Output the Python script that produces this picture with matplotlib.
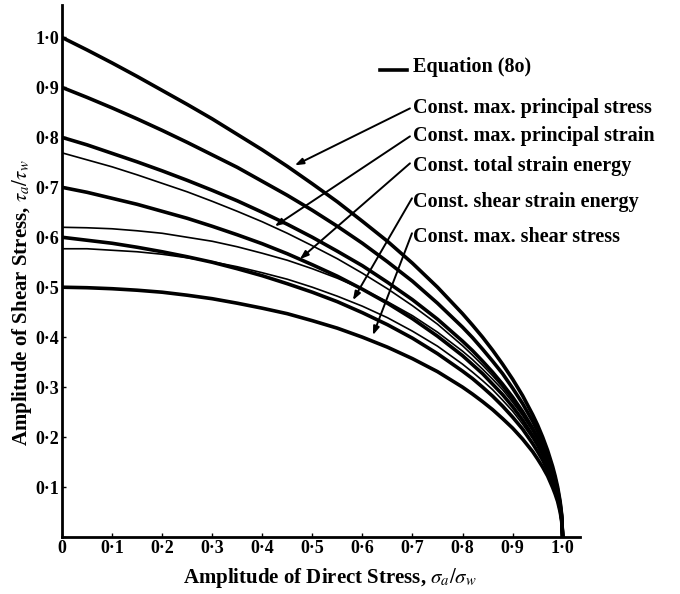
import matplotlib
matplotlib.use('Agg')
import matplotlib.pyplot as plt

plt.rcParams['font.family'] = ['Liberation Serif', 'DejaVu Serif']
plt.rcParams['mathtext.fontset'] = 'stix'

# amplitude of direct stress
x = [0, 0.05, 0.1, 0.15, 0.2, 0.25, 0.3, 0.35, 0.4, 0.45, 0.5, 0.55, 0.6, 0.65, 0.7, 0.75, 0.8,
     0.82, 0.84, 0.86, 0.88, 0.9, 0.92, 0.94, 0.95, 0.96, 0.97, 0.98, 0.985, 0.99, 0.995, 0.998, 1.0]

# equation (80) curves (thick)
eq_100 = [1.000, 0.975, 0.949, 0.922, 0.894, 0.866, 0.837, 0.806, 0.775, 0.742, 0.707, 0.671, 0.632, 0.592, 0.548, 0.500, 0.447,
          0.424, 0.400, 0.374, 0.346, 0.316, 0.283, 0.245, 0.224, 0.200, 0.173, 0.141, 0.122, 0.100, 0.071, 0.045, 0.000]
eq_090 = [0.900, 0.880, 0.859, 0.837, 0.814, 0.790, 0.765, 0.740, 0.712, 0.684, 0.654, 0.622, 0.588, 0.551, 0.512, 0.468, 0.420,
          0.399, 0.376, 0.352, 0.327, 0.298, 0.267, 0.232, 0.212, 0.189, 0.164, 0.134, 0.116, 0.095, 0.067, 0.042, 0.000]
eq_080 = [0.800, 0.785, 0.768, 0.751, 0.733, 0.714, 0.694, 0.673, 0.650, 0.626, 0.600, 0.572, 0.543, 0.510, 0.475, 0.436, 0.392,
          0.373, 0.352, 0.330, 0.306, 0.280, 0.251, 0.218, 0.199, 0.178, 0.154, 0.126, 0.109, 0.089, 0.063, 0.040, 0.000]
eq_070 = [0.700, 0.690, 0.678, 0.666, 0.652, 0.638, 0.622, 0.605, 0.587, 0.567, 0.545, 0.522, 0.496, 0.468, 0.437, 0.402, 0.363,
          0.345, 0.327, 0.306, 0.285, 0.261, 0.234, 0.203, 0.186, 0.166, 0.144, 0.118, 0.102, 0.084, 0.059, 0.037, 0.000]
eq_060 = [0.600, 0.594, 0.588, 0.580, 0.571, 0.561, 0.550, 0.537, 0.523, 0.507, 0.490, 0.471, 0.449, 0.425, 0.398, 0.367, 0.332,
          0.317, 0.300, 0.282, 0.262, 0.240, 0.216, 0.187, 0.171, 0.154, 0.133, 0.109, 0.095, 0.077, 0.055, 0.035, 0.000]
eq_050 = [0.500, 0.499, 0.497, 0.494, 0.490, 0.484, 0.477, 0.468, 0.458, 0.447, 0.433, 0.418, 0.400, 0.380, 0.357, 0.331, 0.300,
          0.286, 0.271, 0.255, 0.237, 0.218, 0.196, 0.171, 0.156, 0.140, 0.122, 0.099, 0.086, 0.071, 0.050, 0.032, 0.000]
thick = [eq_100, eq_090, eq_080, eq_070, eq_060, eq_050]

# other criteria (thin)
princ_strain = [0.769, 0.755, 0.741, 0.725, 0.708, 0.691, 0.672, 0.652, 0.631, 0.608, 0.583, 0.557, 0.528, 0.497, 0.463, 0.426, 0.383,
                0.364, 0.344, 0.323, 0.300, 0.274, 0.246, 0.213, 0.195, 0.175, 0.151, 0.124, 0.107, 0.088, 0.062, 0.039, 0.000]
total_energy = [0.620, 0.619, 0.617, 0.613, 0.608, 0.600, 0.592, 0.581, 0.568, 0.554, 0.537, 0.518, 0.496, 0.471, 0.443, 0.410, 0.372,
                0.355, 0.336, 0.316, 0.295, 0.270, 0.243, 0.212, 0.194, 0.174, 0.151, 0.123, 0.107, 0.087, 0.062, 0.039, 0.000]
shear_energy = [0.577, 0.577, 0.574, 0.571, 0.566, 0.559, 0.551, 0.541, 0.529, 0.516, 0.500, 0.482, 0.462, 0.439, 0.412, 0.382, 0.346,
                0.330, 0.313, 0.295, 0.274, 0.252, 0.226, 0.197, 0.180, 0.162, 0.140, 0.115, 0.100, 0.081, 0.058, 0.036, 0.000]
thin = [princ_strain, total_energy, shear_energy]

tick_vals = [0, 0.1, 0.2, 0.3, 0.4, 0.5, 0.6, 0.7, 0.8, 0.9, 1.0]
xtick_labels = ['0', '0·1', '0·2', '0·3', '0·4', '0·5', '0·6', '0·7', '0·8', '0·9', '1·0']
ytick_labels = ['', '0·1', '0·2', '0·3', '0·4', '0·5', '0·6', '0·7', '0·8', '0·9', '1·0']

labels = ['Const. max. principal stress', 'Const. max. principal strain',
          'Const. total strain energy', 'Const. shear strain energy',
          'Const. max. shear stress']

fig = plt.figure(figsize=(6.8, 5.94), dpi=100)
ax = fig.add_axes([0.0912, 0.096, 0.762, 0.8956])

for y in thick:
    ax.plot(x, y, color='black', lw=2.6, solid_joinstyle='round')
for y in thin:
    ax.plot(x, y, color='black', lw=1.2)

ax.set_xlim(0, 1.035)
ax.set_ylim(0, 1.065)
ax.spines['top'].set_visible(False)
ax.spines['right'].set_visible(False)
ax.spines['left'].set_linewidth(2)
ax.spines['bottom'].set_linewidth(2)
ax.set_xticks(tick_vals)
ax.set_xticklabels(xtick_labels, fontsize=13, fontweight='bold')
ax.set_yticks(tick_vals)
ax.set_yticklabels(ytick_labels, fontsize=13, fontweight='bold')
ax.tick_params(direction='in', length=3, width=1, pad=2)

# key for equation (80)
ax.plot([0.635, 0.689], [0.934, 0.934], color='black', lw=2.6)
ax.text(0.701, 0.94, 'Equation (8o)', fontsize=14.5, fontweight='bold', va='center')

text_y = [0.858, 0.802, 0.742, 0.670, 0.600]
starts = [(0.695, 0.858), (0.695, 0.802), (0.695, 0.748), (0.699, 0.678), (0.699, 0.608)]
tips = [(0.465, 0.744), (0.425, 0.622), (0.475, 0.556), (0.581, 0.474), (0.621, 0.404)]
for lab, ty, s, t in zip(labels, text_y, starts, tips):
    ax.text(0.701, ty, lab, fontsize=14.5, fontweight='bold', va='center')
    ax.annotate('', xy=t, xytext=s,
                arrowprops=dict(arrowstyle='-|>,head_length=0.5,head_width=0.18',
                                color='black', lw=1.4, shrinkA=0, shrinkB=0))

fig.text(0.485, 0.027, r'Amplitude of Direct Stress, $\sigma_a/\sigma_w$',
         fontsize=15, fontweight='bold', ha='center', va='center')
fig.text(0.032, 0.49, r'Amplitude of Shear Stress, $\tau_a/\tau_w$',
         fontsize=15, fontweight='bold', ha='center', va='center', rotation=90)

fig.savefig('out.png')
